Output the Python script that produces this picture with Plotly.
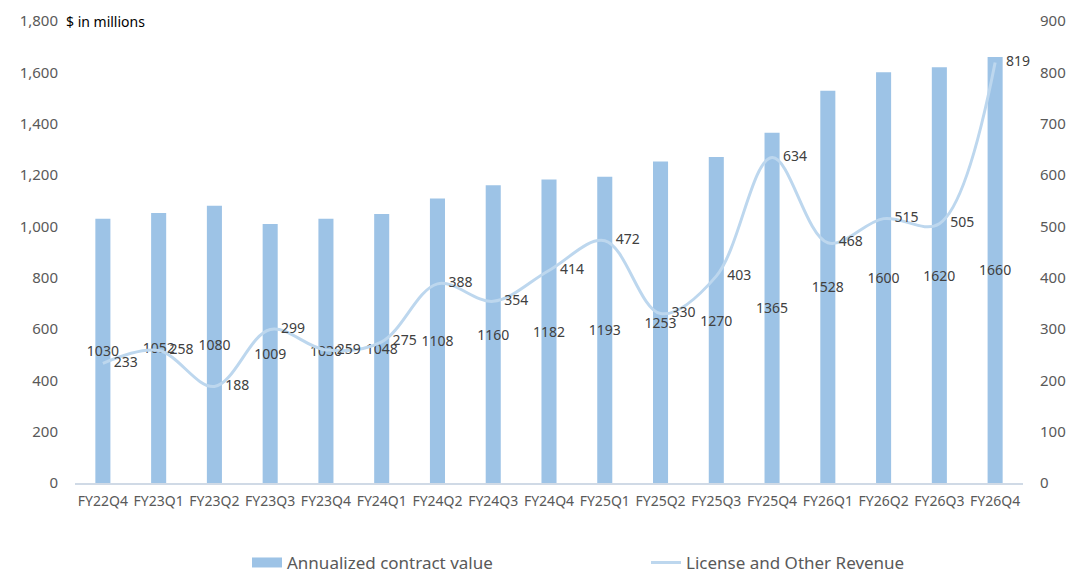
import plotly.graph_objects as go

categories = ["FY22Q4", "FY23Q1", "FY23Q2", "FY23Q3", "FY23Q4", "FY24Q1", "FY24Q2", "FY24Q3",
              "FY24Q4", "FY25Q1", "FY25Q2", "FY25Q3", "FY25Q4", "FY26Q1", "FY26Q2", "FY26Q3", "FY26Q4"]
acv = [1030, 1052, 1080, 1009, 1030, 1048, 1108, 1160, 1182, 1193, 1253, 1270, 1365, 1528, 1600, 1620, 1660]
license_rev = [233, 258, 188, 299, 259, 275, 388, 354, 414, 472, 330, 403, 634, 468, 515, 505, 819]

FONT = "Noto Sans"
GRAY = "#595959"
BAR_COLOR = "#9dc3e6"
LINE_COLOR = "#bdd7ee"

fig = go.Figure()
fig.add_trace(go.Bar(
    x=categories, y=acv, name="Annualized contract value", showlegend=False,
    marker=dict(color=BAR_COLOR, line=dict(width=0)),
    text=[str(v) for v in acv], textposition="inside", insidetextanchor="middle",
    textangle=0, textfont=dict(family=FONT, size=14, color="#404040"),
    constraintext="none", cliponaxis=False,
))
fig.add_trace(go.Scatter(
    x=categories, y=license_rev, name="License and Other Revenue", yaxis="y2", legend="legend2",
    mode="lines+text", line=dict(color=LINE_COLOR, width=3, shape="spline", smoothing=1.0),
    text=["   " + str(v) for v in license_rev], textposition="middle right",
    textfont=dict(family=FONT, size=14, color="#404040"), cliponaxis=False,
))
# legend-only entry that draws the bar swatch as a wide rectangle
fig.add_trace(go.Scatter(
    x=[None], y=[None], name="Annualized contract value", legend="legend",
    mode="lines", line=dict(color=BAR_COLOR, width=10),
))

fig.update_layout(
    width=1080, height=584,
    margin=dict(l=75, r=57, t=21, b=101, autoexpand=False),
    paper_bgcolor="white", plot_bgcolor="white",
    bargap=0.73,
    font=dict(family=FONT, color=GRAY),
    xaxis=dict(showgrid=False, showline=True, linecolor="#d0dae6", linewidth=1.5,
               range=[-0.5, len(categories) - 0.5],
               tickfont=dict(size=14, color=GRAY), ticks="", ticklabelstandoff=4,
               automargin=False),
    yaxis=dict(range=[0, 1800], dtick=200, tickformat=",", showgrid=False, zeroline=False,
               tickfont=dict(size=15, color=GRAY), ticklabelstandoff=16, automargin=False),
    yaxis2=dict(range=[0, 900], dtick=100, overlaying="y", side="right", showgrid=False,
                zeroline=False, tickfont=dict(size=15, color=GRAY), ticklabelstandoff=16,
                automargin=False),
    legend=dict(orientation="h", x=(247 - 75) / 948, xanchor="left", y=-0.173, yanchor="middle",
                font=dict(size=17, color=GRAY), itemwidth=30, bgcolor="rgba(0,0,0,0)"),
    legend2=dict(orientation="h", x=(646 - 75) / 948, xanchor="left", y=-0.173, yanchor="middle",
                 font=dict(size=17, color=GRAY), itemwidth=30, bgcolor="rgba(0,0,0,0)"),
    showlegend=True,
    annotations=[dict(text="$ in millions", x=(64 - 75) / 948, xref="paper", xanchor="left", y=1,
                      yref="paper", yanchor="middle", showarrow=False,
                      font=dict(family=FONT, size=14, color="black"))],
)

fig.write_html("out.html")
